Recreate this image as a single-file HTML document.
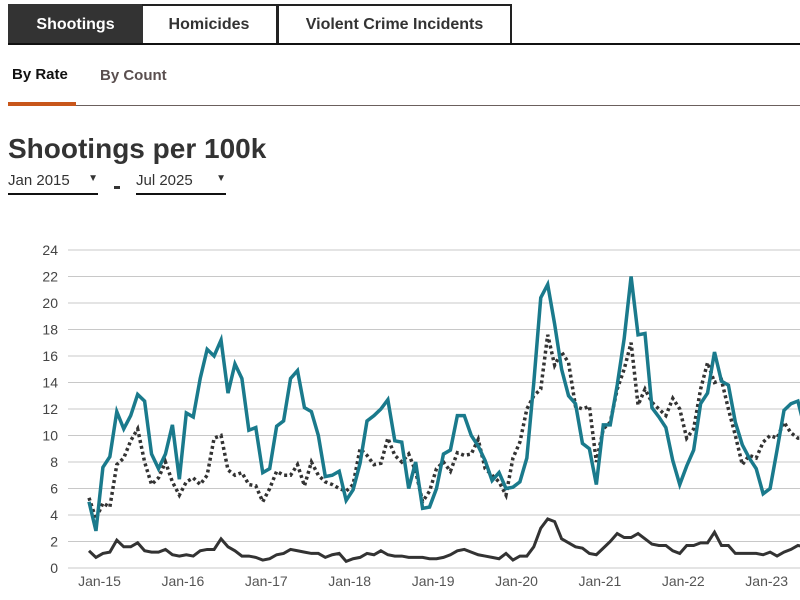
<!DOCTYPE html>
<html><head><meta charset="utf-8">
<style>
*{margin:0;padding:0;box-sizing:border-box}
body{width:800px;height:600px;overflow:hidden;background:#fff;font-family:"Liberation Sans",Arial,sans-serif;color:#333;position:relative}
.tab{position:absolute;top:4px;height:40px;border:2px solid #222;border-bottom:none;font-weight:bold;font-size:16px;display:flex;align-items:center;justify-content:center;color:#333}
.abs{position:absolute}
</style></head><body>
<div class="tab" style="left:8px;width:135px;background:#333;color:#fff;border-color:#333">Shootings</div>
<div class="tab" style="left:142px;width:136px;border-left:none">Homicides</div>
<div class="tab" style="left:277px;width:235px">Violent Crime Incidents</div>
<div class="abs" style="left:8px;top:43px;width:792px;height:2px;background:#111"></div>
<div class="abs" style="left:12px;top:66px;font-size:15px;font-weight:bold;color:#111">By Rate</div>
<div class="abs" style="left:100px;top:67px;font-size:15px;font-weight:bold;color:#5a4f4f">By Count</div>
<div class="abs" style="left:8px;top:105px;width:792px;height:1px;background:#6b605d"></div>
<div class="abs" style="left:8px;top:102px;width:68px;height:4px;background:#c8561a"></div>
<div class="abs" style="left:8px;top:133px;font-size:28px;font-weight:bold;color:#333">Shootings per 100k</div>
<div class="abs" style="left:8px;top:172px;width:90px;height:23px;border-bottom:2px solid #111;font-size:15px">Jan 2015<span style="position:absolute;right:0;top:1px;font-size:10px">▼</span></div>
<div class="abs" style="left:114px;top:186px;width:6px;height:3px;background:#333"></div>
<div class="abs" style="left:136px;top:172px;width:90px;height:23px;border-bottom:2px solid #111;font-size:15px">Jul 2025<span style="position:absolute;right:0;top:1px;font-size:10px">▼</span></div>
<svg class="abs" style="left:0;top:0" width="800" height="600" id="chart"></svg>
<script>
const yTicks=[0,2,4,6,8,10,12,14,16,18,20,22,24];
const xLabels=["Jan-15","Jan-16","Jan-17","Jan-18","Jan-19","Jan-20","Jan-21","Jan-22","Jan-23","Jan-24"];
const cityRate=[5.0,2.8,7.6,8.4,11.8,10.5,11.5,13.1,12.6,8.6,7.5,8.6,
10.8,6.7,11.7,11.4,14.3,16.5,16.0,17.2,13.2,15.4,14.3,10.4,
10.6,7.2,7.5,10.7,11.1,14.3,14.9,12.1,11.8,10.0,6.9,7.0,
7.3,5.1,5.9,7.9,11.1,11.5,12.0,12.7,9.6,9.5,6.0,8.0,
4.5,4.6,6.0,8.6,8.9,11.5,11.5,10.0,9.2,8.1,6.6,7.2,
6.0,6.1,6.5,8.3,14.0,20.4,21.4,18.4,15.0,13.0,12.4,9.4,
9.0,6.3,10.8,10.8,13.8,17.3,22.0,17.6,17.7,12.1,11.4,10.6,
8.1,6.3,7.7,8.9,12.4,13.2,16.3,14.1,13.8,11.0,9.3,8.3,
7.5,5.6,6.0,8.9,11.9,12.4,12.6,10.5];
const avgRate=[5.3,3.7,4.9,4.6,7.8,8.3,9.6,10.5,8.0,6.3,6.8,8.0,
6.5,5.5,6.5,6.8,6.3,7.0,9.8,10.0,7.4,7.0,7.2,6.3,
6.2,5.0,6.0,7.3,7.0,7.0,7.8,6.2,8.0,7.0,6.5,6.3,
6.0,5.8,6.3,9.0,8.5,7.8,7.9,9.8,8.5,8.0,8.6,7.3,
5.0,5.8,7.5,8.0,7.3,8.7,8.5,8.6,9.7,7.5,7.0,6.5,
5.5,8.3,9.5,12.0,13.0,13.5,17.6,15.3,16.3,15.5,12.2,12.0,
12.2,8.0,10.5,11.0,13.5,15.0,17.0,12.3,13.5,12.5,12.0,11.5,
12.8,12.0,9.8,10.5,13.5,15.5,14.0,14.2,12.0,10.0,7.8,8.5,
8.3,9.5,10.0,9.8,11.0,10.2,9.8,9.8];
const lowRate=[1.3,0.8,1.1,1.2,2.1,1.6,1.6,1.9,1.3,1.2,1.2,1.4,
1.0,0.9,1.0,0.9,1.3,1.4,1.4,2.2,1.6,1.3,0.9,0.9,
0.8,0.6,0.7,1.0,1.1,1.4,1.3,1.2,1.1,1.1,0.8,1.0,
1.1,0.5,0.7,0.8,1.1,1.0,1.3,1.0,0.9,0.9,0.8,0.8,
0.8,0.7,0.7,0.8,1.0,1.3,1.4,1.2,1.0,0.9,0.8,0.7,
1.1,0.6,0.9,0.9,1.6,3.0,3.7,3.5,2.2,1.9,1.6,1.5,
1.1,1.0,1.5,2.0,2.6,2.3,2.3,2.6,2.2,1.8,1.7,1.7,
1.3,1.1,1.7,1.7,1.9,1.9,2.7,1.7,1.7,1.1,1.1,1.1,
1.1,1.0,1.2,0.9,1.2,1.4,1.7,1.6];
const svg=document.getElementById('chart');
const NS='http://www.w3.org/2000/svg';
const x=i=>89+i*6.95;
const y=v=>568-v*13.25;
function mk(t,a){const e=document.createElementNS(NS,t);for(const k in a)e.setAttribute(k,a[k]);svg.appendChild(e);return e;}
yTicks.forEach(v=>{
  const l=mk('line',{x1:68,x2:800,y1:y(v),y2:y(v),stroke:'#c8c8c8','stroke-width':1});
  
  
  const t=mk('text',{x:58,y:y(v)+5,'text-anchor':'end','font-size':14,fill:'#444','font-family':'Liberation Sans, sans-serif'});
  t.textContent=v;
  
  
});
xLabels.forEach((s,k)=>{
  const t=mk('text',{x:x(k*12)+10.5,y:586,'text-anchor':'middle','font-size':14,fill:'#555','font-family':'Liberation Sans, sans-serif'});
  t.textContent=s;
  
  
});
function series(d,attrs,name){
  const p=mk('polyline',Object.assign({points:d.map((v,i)=>x(i)+','+y(v)).join(' '),fill:'none','stroke-linejoin':'miter'},attrs));
  
  
}
series(avgRate,{stroke:'#333','stroke-width':3.5,'stroke-dasharray':'3 3'},'average-rate-line');
series(lowRate,{stroke:'#333','stroke-width':3},'low-rate-line');
series(cityRate,{stroke:'#1a7a8c','stroke-width':3.5},'shootings-rate-line');
</script>
</body></html>
